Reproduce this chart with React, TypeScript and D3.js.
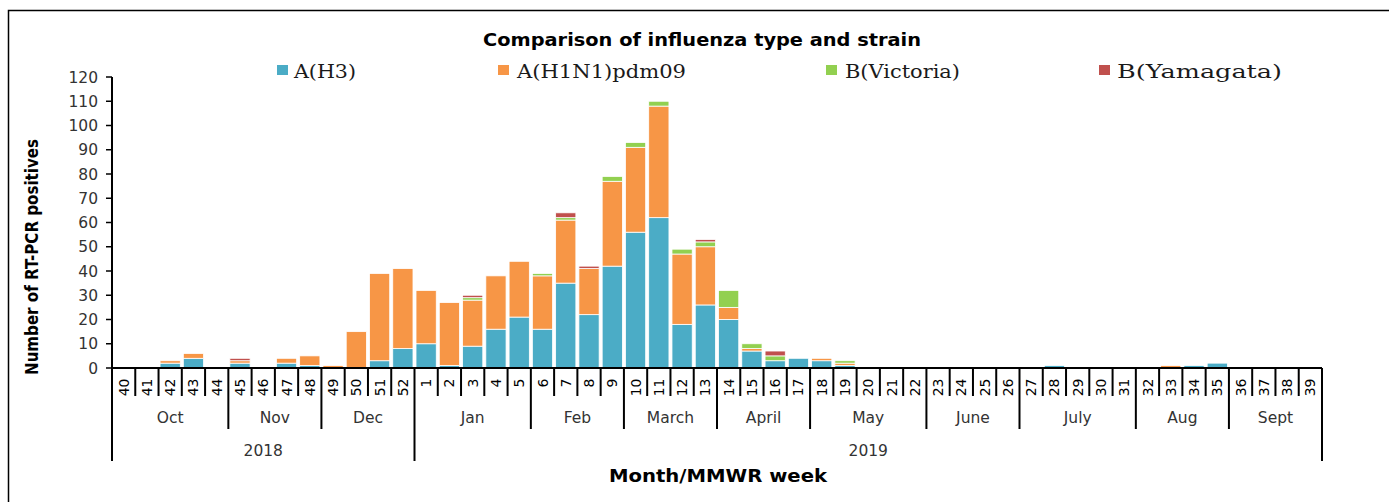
import React from "react";
import * as d3 from "d3";

const weeks: string[] = [
  "40","41","42","43","44","45","46","47","48","49","50","51","52",
  "1","2","3","4","5","6","7","8","9","10","11","12","13","14","15","16","17","18","19","20",
  "21","22","23","24","25","26","27","28","29","30","31","32","33","34","35","36","37","38","39",
];

// values per week, in the same order as `weeks`
const h3: number[] = [
  0,0,2,4,0,2,0,2,1,0,0,3,8,
  10,1,9,16,21,16,35,22,42,56,62,18,26,20,7,3,4,3,1,0,
  0,0,0,0,0,0,0,1,0,0,0,0,0,1,2,0,0,0,0,
];
const h1n1: number[] = [
  0,0,1,2,0,1,0,2,4,1,15,36,33,
  22,26,19,22,23,22,26,19,35,35,46,29,24,5,1,0,0,1,1,0,
  0,0,0,0,0,0,0,0,0,0,0,0,1,0,0,0,0,0,0,
];
const victoria: number[] = [
  0,0,0,0,0,0,0,0,0,0,0,0,0,
  0,0,1,0,0,1,1,0,2,2,2,2,2,7,2,2,0,0,1,0,
  0,0,0,0,0,0,0,0,0,0,0,0,0,0,0,0,0,0,0,
];
const yamagata: number[] = [
  0,0,0,0,0,1,0,0,0,0,0,0,0,
  0,0,1,0,0,0,2,1,0,0,0,0,1,0,0,2,0,0,0,0,
  0,0,0,0,0,0,0,0,0,0,0,0,0,0,0,0,0,0,0,
];

const seriesNames = ["A(H3)", "A(H1N1)pdm09", "B(Victoria)", "B(Yamagata)"];
const seriesColors = ["#4BACC6", "#F79646", "#92D050", "#C0504D"];

const months: { name: string; count: number }[] = [
  { name: "Oct", count: 5 }, { name: "Nov", count: 4 }, { name: "Dec", count: 4 },
  { name: "Jan", count: 5 }, { name: "Feb", count: 4 }, { name: "March", count: 4 },
  { name: "April", count: 4 }, { name: "May", count: 5 }, { name: "June", count: 4 },
  { name: "July", count: 5 }, { name: "Aug", count: 4 }, { name: "Sept", count: 4 },
];
const years: { name: string; count: number }[] = [
  { name: "2018", count: 13 }, { name: "2019", count: 39 },
];
const yTicks = d3.range(0, 121, 10);

const title = "Comparison of influenza type and strain";
const yTitle = "Number of RT-PCR positives";
const xTitle = "Month/MMWR week";

export default function App() {
  const W = 1389, H = 502;
  const left = 112, right = 1322, top = 77, bottom = 368;

  const xCell = d3.scaleBand<string>().domain(weeks).range([left, right]).padding(0);
  const x = d3.scaleBand<string>().domain(weeks).range([left, right]).paddingInner(0.13).paddingOuter(0.065);
  const y = d3.scaleLinear().domain([0, 120]).range([bottom, top]);

  const table = weeks.map((w, i) => ({
    week: w, h3: h3[i], h1n1: h1n1[i], victoria: victoria[i], yamagata: yamagata[i],
  }));
  const keys = ["h3", "h1n1", "victoria", "yamagata"];
  const stacked = d3.stack<any>().keys(keys)(table);

  const step = xCell.step();
  const font = "'DejaVu Sans', Verdana, sans-serif";

  const monthBounds: number[] = [];
  let acc = 0;
  months.forEach((m) => { acc += m.count; monthBounds.push(acc); });
  const yearBounds: number[] = [];
  acc = 0;
  years.forEach((yr) => { acc += yr.count; yearBounds.push(acc); });

  const legendItems = [
    { sx: 277, tx: 294, tl: 62 },
    { sx: 498, tx: 517, tl: 169 },
    { sx: 826, tx: 845, tl: 115 },
    { sx: 1099, tx: 1117, tl: 165 },
  ];

  const lineW = 2;

  return (
    <svg width={W} height={H} style={{ position: "absolute", left: 0, top: 0, background: "#fff" }}>
      <rect x={0} y={0} width={W} height={H} fill="#fff" />
      <path d={`M8.5,${H + 5} V10.5 H${W + 5}`} fill="none" stroke="#000" strokeWidth={1.5} />

      <text x={702} y={46} textAnchor="middle" fontFamily={font} fontWeight="bold" fontSize={17.5}
        textLength={438} lengthAdjust="spacingAndGlyphs" fill="#000">{title}</text>

      {seriesNames.map((n, i) => (
        <g key={n}>
          <rect x={legendItems[i].sx} y={65} width={11} height={10} fill={seriesColors[i]} />
          <text x={legendItems[i].tx} y={78} fontFamily="'DejaVu Serif', 'Liberation Serif', serif" fontSize={18.5}
            textLength={legendItems[i].tl} lengthAdjust="spacingAndGlyphs" fill="#1a1a1a">{n}</text>
        </g>
      ))}

      {stacked.map((s, si) => (
        <g key={s.key} fill={seriesColors[si]}>
          {s.map((d, di) => {
            const v = d[1] - d[0];
            if (v <= 0) return null;
            return (
              <rect key={di} x={x(weeks[di])!} width={x.bandwidth()}
                y={y(d[1])} height={y(d[0]) - y(d[1])}
                stroke="#fff" strokeWidth={0.8} />
            );
          })}
        </g>
      ))}

      <line x1={left} x2={left} y1={top} y2={bottom} stroke="#000" strokeWidth={lineW} />
      {yTicks.map((t) => (
        <g key={t}>
          <line x1={left - 6} x2={left} y1={y(t)} y2={y(t)} stroke="#000" strokeWidth={1.5} />
          <text x={98} y={y(t)} dy="0.36em" textAnchor="end" fontFamily={font} fontSize={15.5} fill="#333">{t}</text>
        </g>
      ))}
      <text transform={`translate(38,257) rotate(-90)`} textAnchor="middle" fontFamily={font} fontWeight="bold"
        fontSize={17} textLength={236} lengthAdjust="spacingAndGlyphs" fill="#000">{yTitle}</text>

      <line x1={left} x2={right} y1={bottom} y2={bottom} stroke="#000" strokeWidth={lineW} />

      {d3.range(0, weeks.length + 1).map((i) => {
        const xx = left + i * step;
        const len = yearBounds.includes(i) || i === 0 ? 461 : monthBounds.includes(i) ? 429 : 396;
        return <line key={i} x1={xx} x2={xx} y1={bottom} y2={len} stroke="#000" strokeWidth={lineW} />;
      })}

      {weeks.map((w) => (
        <text key={w} transform={`translate(${xCell(w)! + step / 2},378.5) rotate(-90)`} textAnchor="end"
          dy="0.36em" fontFamily={font} fontSize={14} fill="#000">{w}</text>
      ))}

      {months.map((m, i) => {
        const start = i === 0 ? 0 : monthBounds[i - 1];
        const cx = left + (start + m.count / 2) * step;
        return <text key={m.name} x={cx} y={423} textAnchor="middle" fontFamily={font} fontSize={15.5} fill="#333">{m.name}</text>;
      })}

      {years.map((yr, i) => {
        const start = i === 0 ? 0 : yearBounds[i - 1];
        const cx = left + (start + yr.count / 2) * step;
        return <text key={yr.name} x={cx} y={456} textAnchor="middle" fontFamily={font} fontSize={15.5} fill="#333">{yr.name}</text>;
      })}

      <text x={718} y={482} textAnchor="middle" fontFamily={font} fontWeight="bold" fontSize={17.5}
        textLength={218} lengthAdjust="spacingAndGlyphs" fill="#000">{xTitle}</text>
    </svg>
  );
}
